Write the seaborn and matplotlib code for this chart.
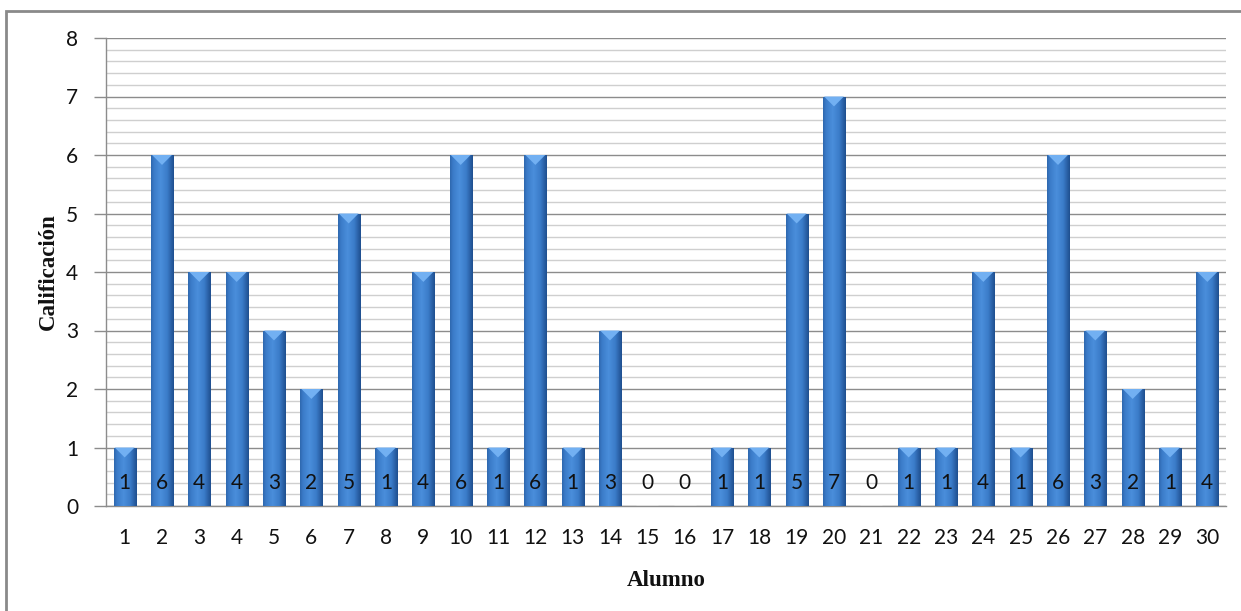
import numpy as np
import pandas as pd
import matplotlib
matplotlib.use("Agg")
import matplotlib.pyplot as plt
import seaborn as sns
from matplotlib.patches import Rectangle, Polygon
from matplotlib.colors import LinearSegmentedColormap
from matplotlib.ticker import MultipleLocator

alumnos = [str(i) for i in range(1, 31)]
calificaciones = [1, 6, 4, 4, 3, 2, 5, 1, 4, 6, 1, 6, 1, 3, 0, 0, 1, 1, 5, 7,
                  0, 1, 1, 4, 1, 6, 3, 2, 1, 4]
y_ticks = [0, 1, 2, 3, 4, 5, 6, 7, 8]

df = pd.DataFrame({"Alumno": alumnos, "Calificación": calificaciones})

sns.set_theme(style="white")
plt.rcParams['font.family'] = ['Lato', 'DejaVu Sans']

fig = plt.figure(figsize=(12.41, 6.11), dpi=100)
ax = fig.add_axes([106/1241, 1-506/611, 1120/1241, 468/611])

sns.barplot(data=df, x="Alumno", y="Calificación", color="#2f67b0",
            width=0.59, ax=ax, saturation=1, zorder=3)

grad = np.linspace(0, 1, 64)
prof = 1 - np.abs(grad - 0.42) / 0.58
cmap = LinearSegmentedColormap.from_list("bar", ["#1f4f8f", "#3b7cc9", "#4a8edb"])
img = np.tile(prof, (2, 1))
for p in ax.patches:
    h = p.get_height()
    x0 = p.get_x(); w = p.get_width()
    if h <= 0:
        continue
    im = ax.imshow(img, extent=[x0, x0 + w, 0, h], aspect='auto', cmap=cmap,
                   vmin=0, vmax=1, zorder=3.5, origin='lower')
    im.set_clip_path(p)
    p.set_edgecolor("#2a5a98")
    p.set_linewidth(0.6)
    tri = Polygon([[x0 + 0.03, h], [x0 + w - 0.03, h], [x0 + w/2, h - 0.17]], closed=True,
                  facecolor="#72b0f2", edgecolor='none', zorder=3.6)
    ax.add_patch(tri)

for i, v in enumerate(calificaciones):
    ax.text(i, 0.40, str(v), ha='center', va='center', fontsize=15,
            color='#111111', zorder=5)

ax.set_ylim(0, 8)
ax.set_xlim(-0.5, 29.5)
ax.set_yticks(y_ticks)
ax.yaxis.set_minor_locator(MultipleLocator(0.2))
ax.grid(which='major', axis='y', color='#8c8c8c', linewidth=1.0, zorder=0)
ax.grid(which='minor', axis='y', color='#cfcfcf', linewidth=1.0, zorder=0)
ax.set_axisbelow(True)

for s in ['top', 'right']:
    ax.spines[s].set_visible(False)
ax.spines['left'].set_color('#8c8c8c')
ax.spines['bottom'].set_color('#8c8c8c')
ax.spines['left'].set_linewidth(1.0)
ax.spines['bottom'].set_linewidth(1.0)

ax.tick_params(axis='y', which='major', length=9, width=1, color='#8c8c8c',
               left=True, labelsize=15, pad=11, labelcolor='#111111')
ax.tick_params(axis='y', which='minor', length=0)
ax.tick_params(axis='x', length=0, labelsize=15, pad=16, labelcolor='#111111')

ax.set_xlabel("Alumno", fontsize=16.5, fontweight='bold',
              family=['Liberation Serif'], labelpad=16, color='#111111')
ax.set_ylabel("Calificación", fontsize=16.5, fontweight='bold',
              family=['Liberation Serif'], labelpad=5, color='#111111')

fig.add_artist(Rectangle((6/1241, -0.05), 1.2, 1 - 11/611 + 0.05,
                         transform=fig.transFigure, fill=False,
                         edgecolor='#8a8a8a', linewidth=2))

fig.savefig("out.png", dpi=100)
